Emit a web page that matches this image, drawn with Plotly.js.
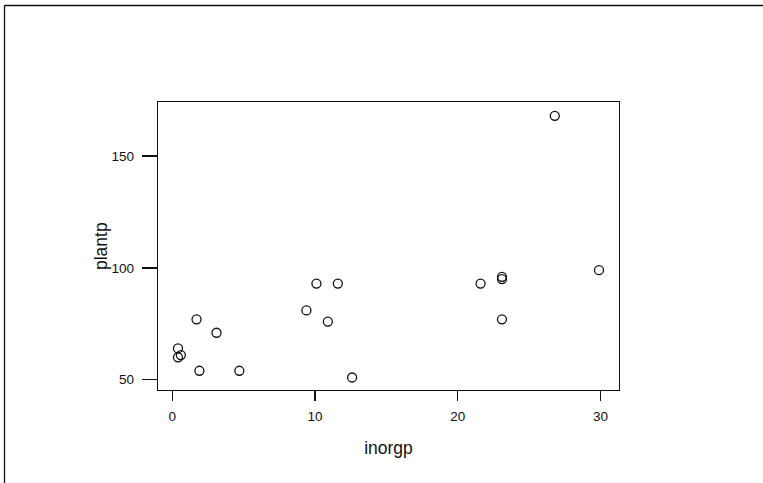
<!DOCTYPE html>
<html>
<head>
<meta charset="utf-8">
<script src="https://cdn.plot.ly/plotly-3.0.1.min.js"></script>
<style>
  html, body { margin: 0; padding: 0; background: #fff; }
  #chart { width: 763px; height: 483px; }
</style>
</head>
<body>
<div id="chart"></div>
<script>
// Phosphorus data: inorganic soil phosphorus vs. plant-available phosphorus
const inorgp = [0.4, 0.4, 3.1, 0.6, 4.7, 1.7, 9.4, 10.1, 11.6, 12.6, 10.9, 23.1, 23.1, 21.6, 23.1, 1.9, 26.8, 29.9];
const plantp = [64, 60, 71, 61, 54, 77, 81, 93, 93, 51, 76, 96, 77, 93, 95, 54, 168, 99];

const xTicks = [0, 10, 20, 30];
const yTicks = [50, 100, 150];

const FONT = 'Liberation Sans, Arial, sans-serif';
const INK = '#111';

const trace = {
  type: 'scatter',
  mode: 'markers',
  x: inorgp,
  y: plantp,
  marker: {
    symbol: 'circle-open',
    size: 9,
    color: INK,
    line: { color: INK, width: 1.3 }
  },
  hoverinfo: 'x+y'
};

// plot area in pixels: left 158, right 619, top 102, bottom 390
const L = 158, R = 619, T = 102, B = 390, W = 763, H = 483;
const px = v => (v - L) / (R - L);
const py = v => (B - v) / (B - T);

const layout = {
  width: W,
  height: H,
  margin: { l: L, r: W - R, t: T, b: H - B, pad: 0 },
  paper_bgcolor: '#fff',
  plot_bgcolor: '#fff',
  showlegend: false,
  font: { family: FONT, color: INK },
  xaxis: {
    range: [-1.0, 31.3],
    tickvals: xTicks,
    ticktext: xTicks.map(String),
    ticks: 'outside',
    ticklen: 10,
    tickwidth: 1.3,
    tickcolor: INK,
    showline: true,
    mirror: true,
    linecolor: INK,
    linewidth: 1.3,
    showgrid: false,
    zeroline: false,
    tickfont: { family: FONT, size: 13.5, color: INK },
    ticklabelstandoff: 3,
    title: { text: 'inorgp', font: { family: FONT, size: 17.5, color: INK }, standoff: 19 }
  },
  yaxis: {
    range: [45.4, 174.2],
    tickvals: yTicks,
    ticktext: yTicks.map(String),
    ticks: 'outside',
    ticklen: 15,
    tickwidth: 1.3,
    tickcolor: INK,
    showline: true,
    mirror: true,
    linecolor: INK,
    linewidth: 1.3,
    showgrid: false,
    zeroline: false,
    tickfont: { family: FONT, size: 13.5, color: INK },
    ticklabelstandoff: 5
  },
  annotations: [
    // y-axis title, just left of the tick labels
    { text: 'plantp', xref: 'paper', yref: 'paper', x: px(101), y: py(246),
      xanchor: 'center', yanchor: 'middle', textangle: -90, showarrow: false,
      font: { family: FONT, size: 17.5, color: INK } }
  ],
  shapes: [
    // outer frame: left and top edges of the figure region
    { type: 'line', xref: 'paper', yref: 'paper', x0: px(4.5), x1: px(W + 5), y0: py(5.5), y1: py(5.5),
      line: { color: INK, width: 1.3 } },
    { type: 'line', xref: 'paper', yref: 'paper', x0: px(4.5), x1: px(4.5), y0: py(5.5), y1: py(H + 5),
      line: { color: INK, width: 1.3 } }
  ]
};

Plotly.newPlot('chart', [trace], layout, { displayModeBar: false, staticPlot: true });
</script>
</body>
</html>
